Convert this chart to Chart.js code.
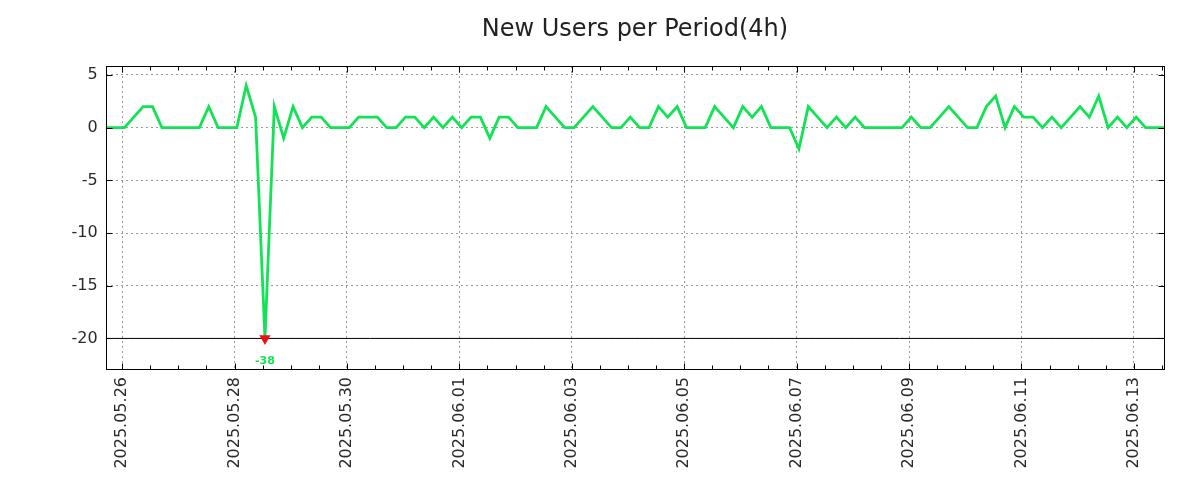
<!DOCTYPE html>
<html><head><meta charset="utf-8">
<script src="https://cdn.jsdelivr.net/npm/chart.js@4.4.1/dist/chart.umd.min.js"></script>
<style>html,body{margin:0;padding:0;background:#fff}#wrap{width:1200px;height:500px;position:relative}</style>
</head><body><div id="wrap"><canvas id="c"></canvas></div>
<script>
// ---- data ----
const chartTitle = 'New Users per Period(4h)';
const firstSampleUTC = [2025, 5, 25, 17, 0];   // 2025-05-25 17:00, one sample every 4h
const stepHours = 4;
const newUsers = [
  0,0,0,1,2,2,0,0,0,0,
  0,2,0,0,0,4,1,-38,2,-1,
  2,0,1,1,0,0,0,1,1,1,
  0,0,1,1,0,1,0,1,0,1,
  1,-1,1,1,0,0,0,2,1,0,
  0,1,2,1,0,0,1,0,0,2,
  1,2,0,0,0,2,1,0,2,1,
  2,0,0,0,-2,2,1,0,1,0,
  1,0,0,0,0,0,1,0,0,1,
  2,1,0,0,2,3,0,2,1,1,
  0,1,0,1,2,1,3,0,1,0,
  1,0,0,0
];
const clipMin = -20;               // values below are drawn at this level and labelled
const yTickValues = [-20, -15, -10, -5, 0, 5];
const yRange = [-22.9, 5.85];
const xTickStartUTC = [2025, 5, 26]; // minor ticks every 12h, labels every 2 days
const xMinorHours = 12;
const xMajorHours = 48;

// ---- build ----
const H = 3600e3;
const t0 = Date.UTC(firstSampleUTC[0], firstSampleUTC[1]-1, firstSampleUTC[2], firstSampleUTC[3], firstSampleUTC[4]);
const xs = newUsers.map((v, i) => t0 + i * stepHours * H);
const lineData = newUsers.map((v, i) => ({x: xs[i], y: Math.max(v, clipMin)}));
const clipped = newUsers.map((v, i) => ({x: xs[i], y: clipMin, raw: v})).filter(p => p.raw < clipMin);
const xMin = xs[0], xMax = xs[xs.length-1];
const tickStart = Date.UTC(xTickStartUTC[0], xTickStartUTC[1]-1, xTickStartUTC[2]);
const xTickValues = [];
for (let t = tickStart; t <= xMax; t += xMinorHours * H) if (t >= xMin) xTickValues.push(t);
const isMajor = v => Math.round((v - tickStart) / H) % xMajorHours === 0;
const pad2 = n => String(n).padStart(2, '0');
const fmt = v => { const d = new Date(v); return d.getUTCFullYear() + '.' + pad2(d.getUTCMonth()+1) + '.' + pad2(d.getUTCDate()); };

const GREEN = '#12e354';
const FONT = 'DejaVu Sans';

const framePlugin = {
  id: 'frame',
  afterDatasetsDraw(chart) {
    const {ctx, chartArea: a, scales: {x, y}} = chart;
    ctx.save();
    // title centred over the plot area
    ctx.fillStyle = '#222';
    ctx.font = '24px "' + FONT + '"';
    ctx.textAlign = 'center';
    ctx.textBaseline = 'middle';
    ctx.fillText(chartTitle, (a.left + a.right) / 2, 30);
    // labels for clipped values
    ctx.fillStyle = GREEN;
    ctx.font = 'bold 11px "' + FONT + '"';
    clipped.forEach(p => {
      ctx.fillText(String(p.raw), x.getPixelForValue(p.x), y.getPixelForValue(p.y) + 22.5);
    });
    // frame
    ctx.strokeStyle = '#000';
    ctx.lineWidth = 1;
    const L = Math.round(a.left) + 0.5, R = Math.round(a.right) + 0.5, T = Math.round(a.top) + 0.5, B = Math.round(a.bottom) + 0.5;
    ctx.strokeRect(L, T, R - L, B - T);
    ctx.beginPath();
    xTickValues.forEach(v => {
      const px = Math.round(x.getPixelForValue(v)) + 0.5;
      const len = isMajor(v) ? 6 : 4;
      ctx.moveTo(px, B); ctx.lineTo(px, B - len);
      ctx.moveTo(px, T); ctx.lineTo(px, T + len);
    });
    yTickValues.forEach(v => {
      const py = Math.round(y.getPixelForValue(v)) + 0.5;
      ctx.moveTo(L, py); ctx.lineTo(L + 6, py);
      ctx.moveTo(R, py); ctx.lineTo(R - 6, py);
    });
    ctx.stroke();
    ctx.restore();
  }
};

new Chart(document.getElementById('c'), {
  data: {
    datasets: [
      {type: 'line', data: [{x: xMin, y: clipMin}, {x: xMax, y: clipMin}], borderColor: '#000', borderWidth: 1, pointRadius: 0, order: 3},
      {type: 'line', data: lineData, borderColor: GREEN, borderWidth: 2.8, pointRadius: 0, tension: 0, order: 2},
      {type: 'scatter', data: clipped, pointStyle: 'triangle', rotation: 180, pointRadius: 6.5, backgroundColor: '#ee1111', borderWidth: 0, order: 1}
    ]
  },
  options: {
    responsive: true, maintainAspectRatio: false, animation: false,
    layout: {padding: {left: 0, right: 35.7, top: 66, bottom: 0}},
    plugins: {
      legend: {display: false}, tooltip: {enabled: false}, title: {display: false}
    },
    scales: {
      x: {
        type: 'linear', min: xMin, max: xMax,
        afterBuildTicks: s => { s.ticks = xTickValues.map(v => ({value: v})); },
        afterFit: s => { s.height = 131; },
        ticks: {autoSkip: false, maxRotation: 90, minRotation: 90, padding: 8, color: '#2a2a2a', font: {family: FONT, size: 16},
          callback: v => isMajor(v) ? fmt(v) : ''},
        grid: {drawTicks: false, lineWidth: 1, color: c => (c.tick && isMajor(c.tick.value)) ? '#9a9a9a' : 'rgba(0,0,0,0)'},
        border: {display: false, dash: [2, 3]}
      },
      y: {
        type: 'linear', min: yRange[0], max: yRange[1],
        afterBuildTicks: s => { s.ticks = yTickValues.map(v => ({value: v})); },
        afterFit: s => { s.width = 105.7; },
        ticks: {padding: 8, color: '#2a2a2a', font: {family: FONT, size: 16}},
        grid: {drawTicks: false, lineWidth: 1, color: '#9a9a9a'},
        border: {display: false, dash: [2, 3]}
      }
    }
  },
  plugins: [framePlugin]
});
</script></body></html>
